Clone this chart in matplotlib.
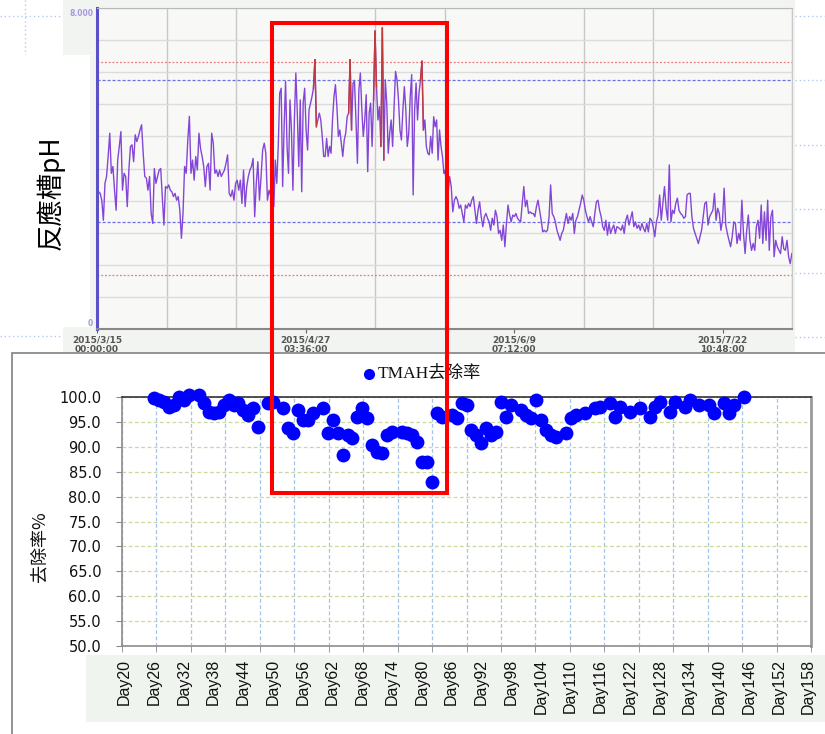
import numpy as np
import matplotlib
matplotlib.use("Agg")
import matplotlib.pyplot as plt
from matplotlib.patches import Rectangle
from matplotlib.lines import Line2D

W, H = 825, 734

# reactor pH log, read in four stretches (days since 2015/3/15 00:00)
ph_part1 = [3.46, 3.42, 3.38, 3.21, 2.71, 3.63, 3.80, 4.30, 4.88, 3.88, 4.05, 3.46, 2.96, 4.21, 4.55,
            4.92, 3.46, 3.88, 3.80, 3.05, 3.96, 4.55, 4.59, 4.17, 4.84, 4.67, 4.80, 4.96, 5.09, 4.38,
            3.80, 3.76, 3.46, 3.80, 2.88, 2.63, 4.00, 3.63, 3.80, 3.96, 4.00, 3.30, 2.59, 3.55, 3.51,
            3.59, 3.46, 3.42, 3.30, 3.38, 3.21, 3.30, 2.96, 2.26, 2.88, 4.05, 3.88, 4.71, 5.30, 3.88,
            4.21, 3.71, 4.30, 3.96, 4.88, 4.50, 4.30, 4.05, 3.55, 4.05, 4.13, 3.46, 4.88, 4.63, 3.88,
            3.96, 3.80, 3.96, 3.80, 3.88, 3.96, 4.13, 4.34, 3.38, 3.30, 3.46, 3.21, 3.63, 3.71, 3.46,
            3.71, 3.13, 3.96, 3.05, 3.55, 3.80, 3.96, 4.05, 4.25, 2.80, 3.63, 4.17, 3.21, 3.80, 4.46,
            4.63, 4.38, 3.21, 3.46]
ph_part2 = [3.05, 4.21, 3.63, 4.55, 5.88, 6.00, 3.55, 5.04, 6.17, 4.55, 3.88, 5.71, 4.96, 3.46, 5.21,
            6.38, 5.38, 4.05, 5.71, 3.42, 5.63, 6.00, 4.96, 4.46, 5.46, 5.63, 5.79, 6.00, 6.71, 5.04,
            5.21, 5.38, 5.21, 4.80, 4.30, 4.30, 4.75, 4.30, 4.55, 4.38, 5.21, 5.79, 6.09, 5.54, 4.80,
            4.96, 4.63, 4.30, 4.71, 4.88, 5.29, 5.38, 6.71, 4.96, 6.13, 6.17, 5.21, 4.13, 5.96, 6.38,
            5.46, 4.80, 5.21, 5.84, 3.92, 5.38, 5.63, 4.55, 5.71, 7.42, 6.04, 5.21, 5.54, 4.55, 7.50,
            4.21, 6.21, 5.63, 4.38, 4.88, 5.21, 4.55, 5.54, 6.42, 6.21, 5.71, 4.96, 4.71, 5.46, 6.04,
            5.46, 4.55, 4.88, 5.79, 6.34, 3.34, 5.46, 6.13, 5.21, 5.88, 6.21, 6.67, 4.96, 5.21, 4.55,
            4.38, 4.34, 4.80, 4.38, 5.29, 5.04, 5.21, 4.21, 4.96, 4.55, 4.30, 3.88]
ph_part3 = [3.96, 3.63, 3.38, 3.80, 3.55, 2.92, 3.21, 3.30, 3.21, 3.01, 3.09, 2.88, 2.67, 3.09, 3.01,
            3.13, 3.05, 3.21, 3.30, 2.96, 2.63, 2.96, 3.17, 2.80, 2.55, 2.80, 2.88, 2.76, 2.67, 2.46,
            2.76, 2.59, 2.96, 2.80, 2.38, 2.46, 2.21, 2.59, 2.05, 2.63, 3.09, 2.84, 2.67, 2.84, 2.80,
            2.88, 2.76, 2.71, 2.67, 3.13, 3.55, 3.05, 3.21, 2.88, 2.92, 2.88, 2.88, 2.80, 3.05, 3.21,
            2.96, 2.71, 2.42, 2.46, 2.42, 2.46, 2.80, 3.59, 2.88, 2.80, 2.67, 2.46, 2.34, 2.21, 2.38,
            2.46, 2.67, 2.88, 2.63, 2.80, 2.71, 2.88, 2.38, 2.71, 2.80, 2.96, 3.13, 3.34, 3.21, 2.96,
            2.80, 2.67, 2.80, 2.67, 2.55, 2.88, 3.17, 3.21, 2.96, 2.80, 2.55, 2.46, 2.71, 2.34, 2.63,
            2.38, 2.51, 2.59, 2.38, 2.55]
ph_part4 = [2.51, 2.46, 2.59, 2.38, 2.71, 2.84, 2.59, 2.76, 2.92, 2.55, 2.67, 2.51, 2.59, 2.46, 2.63,
            2.51, 2.42, 2.63, 2.42, 2.76, 2.71, 2.55, 2.30, 2.67, 2.84, 3.34, 2.71, 3.13, 3.55, 3.01,
            2.71, 4.09, 2.67, 2.96, 2.88, 3.13, 3.26, 2.96, 2.88, 2.84, 2.76, 2.80, 3.34, 3.38, 3.38,
            2.80, 2.51, 2.38, 2.26, 2.13, 2.30, 2.46, 2.80, 3.13, 3.17, 2.59, 2.80, 2.88, 2.96, 3.38,
            2.71, 3.01, 2.88, 2.46, 2.71, 3.51, 2.59, 2.38, 2.21, 2.05, 2.30, 2.67, 2.63, 2.13, 2.38,
            2.21, 3.21, 2.38, 1.88, 2.46, 2.84, 2.21, 1.96, 2.13, 1.96, 2.55, 2.71, 2.26, 3.09, 2.13,
            2.92, 2.21, 3.21, 1.96, 2.80, 2.96, 1.80, 2.21, 2.05, 1.96, 1.88, 2.30, 2.00, 1.96, 2.21,
            1.80, 1.63, 1.88]
part_spans = [(0.0, 35.6), (36.6, 71.8), (72.0, 107.6), (108.1, 143.8)]

ph_limits_red = [6.65, 1.35]
ph_limits_blue = [6.2, 2.67]
date_labels = ["2015/3/15\n00:00:00", "2015/4/27\n03:36:00", "2015/6/9\n07:12:00", "2015/7/22\n10:48:00"]

# TMAH removal rate per day
days = [26, 27, 28, 29, 30, 31, 32, 33, 35, 36, 37, 38, 39, 40, 41, 42, 43, 44, 45, 46,
        47, 49, 50, 52, 53, 54, 55, 56, 57, 58, 60, 61, 62, 63, 64, 65, 66, 67, 68, 69,
        70, 71, 72, 73, 74, 76, 77, 78, 79, 80, 81, 82, 83, 84, 86, 87, 88, 89, 90, 91,
        92, 93, 94, 95, 96, 97, 98, 100, 101, 102, 103, 104, 105, 106, 107, 109, 110, 111, 113, 115,
        116, 118, 119, 120, 122, 124, 126, 127, 128, 130, 131, 133, 134, 136, 138, 139, 141, 142, 143, 145]
removal = [99.7, 99.3, 99.0, 98.0, 98.3, 100.0, 99.3, 100.3, 100.3, 98.7, 97.0, 96.7, 97.0, 98.3, 99.3, 98.3, 98.7, 97.3, 96.3, 97.7,
           94.0, 98.7, 99.0, 97.7, 93.7, 92.7, 97.3, 95.3, 95.3, 96.7, 97.7, 92.7, 95.3, 92.7, 88.3, 92.3, 91.7, 96.0, 97.7, 95.7,
           90.3, 89.0, 88.7, 92.3, 93.0, 93.0, 92.7, 92.3, 91.0, 87.0, 87.0, 83.0, 96.7, 96.0, 96.3, 95.7, 98.7, 98.3, 93.3, 92.3,
           90.7, 93.7, 92.3, 93.0, 99.0, 96.0, 98.3, 97.3, 96.3, 95.7, 99.3, 95.3, 93.3, 92.3, 92.0, 92.7, 95.7, 96.3, 96.7, 97.7,
           98.0, 98.7, 96.0, 98.0, 97.0, 97.7, 96.0, 98.0, 99.0, 97.0, 99.0, 98.0, 99.3, 98.3, 98.3, 96.7, 98.7, 96.7, 98.3, 100.0]
day_labels = list(range(20, 159, 6))


def fx(px):
    return px / W


def fy(py):
    return 1 - py / H


fig = plt.figure(figsize=(W / 100, H / 100), dpi=100)

# backgrounds of the pasted pieces
fig.add_artist(Rectangle((fx(63), fy(352)), fx(795 - 63), 352 / H, transform=fig.transFigure,
                         facecolor="#f2f4f1", edgecolor="none", zorder=-5))
fig.add_artist(Rectangle((0, fy(327)), fx(90), (327 - 55) / H, transform=fig.transFigure,
                         facecolor="white", edgecolor="none", zorder=-4))
fig.add_artist(Rectangle((fx(12), -0.01), 1, (734 - 353) / H + 0.01, transform=fig.transFigure,
                         facecolor="white", edgecolor="#8a8a8a", lw=1.3, zorder=-3))
fig.add_artist(Rectangle((fx(86), fy(722)), 1, (722 - 655) / H, transform=fig.transFigure,
                         facecolor="#eff4ee", edgecolor="none", zorder=-2))

# faint dotted slide guides
guide = dict(color="#b4c8ee", lw=1.0, ls=(0, (1, 2)), zorder=-6)
fig.add_artist(Line2D([fx(793), fx(793)], [fy(0), fy(352)], **guide))
for gy in [16, 80, 145, 209, 273, 337]:
    fig.add_artist(Line2D([fx(795), 1], [fy(gy), fy(gy)], **guide))
for gy in [80, 145, 209, 273]:
    fig.add_artist(Line2D([0, fx(10)], [fy(gy), fy(gy)], **guide))
fig.add_artist(Line2D([0, fx(63)], [fy(16), fy(16)], **guide))
fig.add_artist(Line2D([fx(25), fx(25)], [fy(0), fy(55)], **guide))
fig.add_artist(Line2D([0, fx(63)], [fy(336), fy(336)], **guide))

# ---- top: reactor pH trend ----
ax1 = fig.add_axes([fx(97), fy(329), fx(695), 321 / H])
ax1.set_facecolor("#f8f9f7")
t = np.concatenate([np.linspace(a, b, len(p)) for (a, b), p in
                    zip(part_spans, [ph_part1, ph_part2, ph_part3, ph_part4])])
ph = np.array(ph_part1 + ph_part2 + ph_part3 + ph_part4)
span = 143.833
ax1.set_xlim(0, span)
ax1.set_ylim(0, 8)
ax1.set_yticks(np.arange(0, 8.01, 0.8))
ax1.set_xticks(np.arange(0, span + 0.1, span / 10), minor=True)
ax1.set_xticks([0, 3 * span / 10, 6 * span / 10, 9 * span / 10])
ax1.set_xticklabels(date_labels)
ax1.set_yticklabels([])
ax1.grid(axis="y", color="#dcdcdc", lw=1)
ax1.grid(axis="x", which="minor", color="#c8c8c8", lw=1)
ax1.tick_params(axis="y", length=0)
ax1.tick_params(axis="x", which="minor", length=0)
ax1.tick_params(axis="x", which="major", length=3, color="#666666", labelsize=6.5,
                labelcolor="#555555", pad=2)
for lab in ax1.get_xticklabels():
    lab.set_fontweight("bold")
    lab.set_linespacing(1.0)
for v in ph_limits_red:
    ax1.axhline(v, color="#e87a7a", lw=0.9, ls=(0, (1.5, 1.5)))
for v in ph_limits_blue:
    ax1.axhline(v, color="#6f6fe6", lw=0.9, ls=(0, (2.5, 1.5)))
ax1.plot(t, ph, color="#8446d6", lw=1.0)
for i in range(len(ph) - 1):
    if ph[i] > 6.6 or ph[i + 1] > 6.6:
        ax1.plot(t[i:i + 2], ph[i:i + 2], color="#c23a3a", lw=1.0)
ax1.spines["left"].set_color("#5a50c8")
ax1.spines["left"].set_linewidth(2.2)
ax1.spines["bottom"].set_color("#888888")
ax1.spines["bottom"].set_linewidth(1.5)
ax1.spines["top"].set_color("#b8b8b8")
ax1.spines["right"].set_color("#c8c8c8")
fig.text(fx(70), fy(13), "8.000", fontsize=5.5, color="#a898e0", fontweight="bold", va="center")
fig.text(fx(93), fy(323), "0", fontsize=5.5, color="#a898e0", fontweight="bold", va="center", ha="right")
fig.text(fx(50), fy(193), "反應槽pH", rotation=90, fontsize=19, ha="center", va="center",
         family=["Noto Sans CJK TC", "DejaVu Sans"])

# ---- bottom: TMAH removal rate ----
ax2 = fig.add_axes([fx(122), fy(646.3), fx(689), 249.6 / H])
ax2.set_facecolor("white")
ax2.set_xlim(19.5, 158.5)
ax2.set_ylim(50, 100)
ax2.set_yticks(np.arange(50, 100.1, 5))
ax2.set_yticklabels([f"{v:.1f}" for v in np.arange(50, 100.1, 5)])
ax2.set_xticks(day_labels)
ax2.set_xticklabels([f"Day{d}" for d in day_labels], rotation=90, family="Liberation Sans")
ax2.set_xticks(np.linspace(19.5, 158.5, 21), minor=True)
ax2.grid(axis="y", color="#c9d99f", lw=0.9, ls=(0, (3, 2)))
ax2.grid(axis="x", which="minor", color="#a3c4e8", lw=0.9, ls=(0, (3, 2)))
ax2.set_axisbelow(True)
ax2.tick_params(axis="x", which="major", length=0, labelsize=11.5, pad=9, labelcolor="#111111")
ax2.tick_params(axis="x", which="minor", length=4, color="#8c8c8c")
ax2.tick_params(axis="y", length=4, color="#8c8c8c", labelsize=10.5, pad=11, labelcolor="#111111")
for side in ["left", "bottom"]:
    ax2.spines[side].set_color("#8c8c8c")
    ax2.spines[side].set_linewidth(1.2)
ax2.spines["top"].set_color("#222222")
ax2.spines["top"].set_linewidth(1.1)
ax2.spines["right"].set_color("#9a9a9a")
ax2.spines["right"].set_linewidth(2)
ax2.plot(days, removal, "o", color="#0000ff", ms=10, mec="none", clip_on=False, zorder=5)

fig.add_artist(Line2D([fx(369)], [fy(374)], marker="o", ms=8, color="#0000ff", mec="none",
                      transform=fig.transFigure))
fig.text(fx(378), fy(374), "TMAH去除率", fontsize=12.5, va="center",
         family=["Liberation Serif", "Noto Sans CJK TC"], color="#111111")
fig.text(fx(40), fy(547), "去除率%", rotation=90, fontsize=13, ha="center", va="center",
         family=["Noto Sans CJK TC", "DejaVu Sans"], color="#111111")

# highlight box across both charts
fig.add_artist(Rectangle((fx(272), fy(493)), fx(447 - 272), (493 - 23) / H, transform=fig.transFigure,
                         fill=False, edgecolor="#ff0000", lw=2.9, zorder=20))

fig.savefig("out.png", dpi=100)
